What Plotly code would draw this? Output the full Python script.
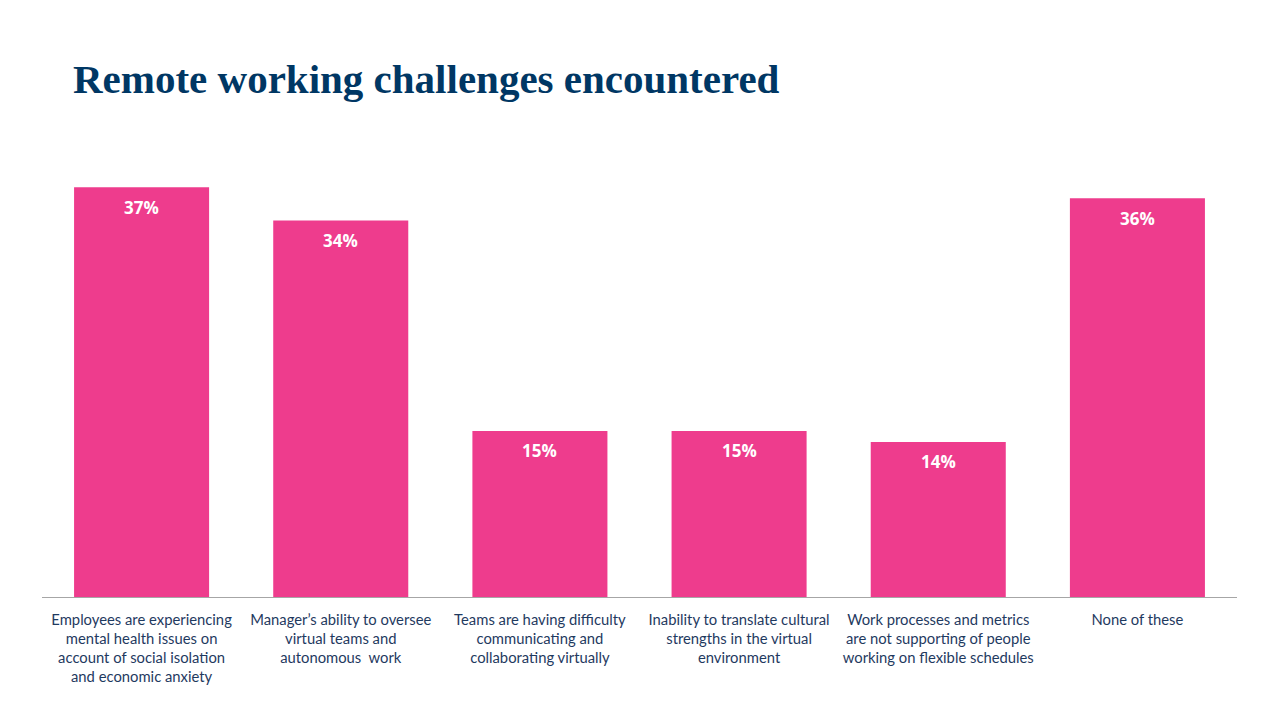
import plotly.graph_objects as go

categories = [
    "Employees are experiencing<br>mental health issues on<br>account of social isolation<br>and economic anxiety",
    "Manager’s ability to oversee<br>virtual teams and<br>autonomous  work",
    "Teams are having difficulty<br>communicating and<br>collaborating virtually",
    "Inability to translate cultural<br>strengths in the virtual<br>environment",
    "Work processes and metrics<br>are not supporting of people<br>working on flexible schedules",
    "None of these",
]
values = [37, 34, 15, 15, 14, 36]
labels = [f"{v}%" for v in values]

PINK = "#EE3C8D"
NAVY = "#003764"
TICK = "#1F3A5F"

fig = go.Figure()
fig.add_trace(go.Bar(
    x=list(range(len(categories))),
    y=values,
    marker=dict(color=PINK, line=dict(width=0)),
    hoverinfo="skip",
))

for i, (v, t) in enumerate(zip(values, labels)):
    fig.add_annotation(
        x=i, y=v, text=f"<b>{t}</b>", showarrow=False,
        yanchor="middle", yshift=-20,
        font=dict(family="Open Sans, Lato, sans-serif", size=17, color="white"),
    )

fig.update_layout(
    width=1280, height=720,
    paper_bgcolor="white", plot_bgcolor="white",
    margin=dict(l=34, r=51, t=146, b=131),
    bargap=0.322,
    showlegend=False,
    title=dict(
        text="<b>Remote working challenges encountered</b>",
        x=65/1280, xref="container", xanchor="left",
        y=1 - 71/720, yref="container", yanchor="middle",
        font=dict(family="Liberation Serif, serif", size=41, color=NAVY),
    ),
    xaxis=dict(
        tickmode="array",
        tickvals=list(range(len(categories))),
        ticktext=categories,
        range=[-0.5, len(categories) - 0.5],
        showgrid=False, zeroline=False,
        showline=True, linecolor="#A6A6A6", linewidth=1,
        ticks="", ticklabelstandoff=9,
        tickfont=dict(family="Lato, sans-serif", size=14.8, color=TICK),
    ),
    yaxis=dict(
        range=[0, 40], visible=False, showgrid=False, zeroline=False,
    ),
)

fig.write_html("out.html")
